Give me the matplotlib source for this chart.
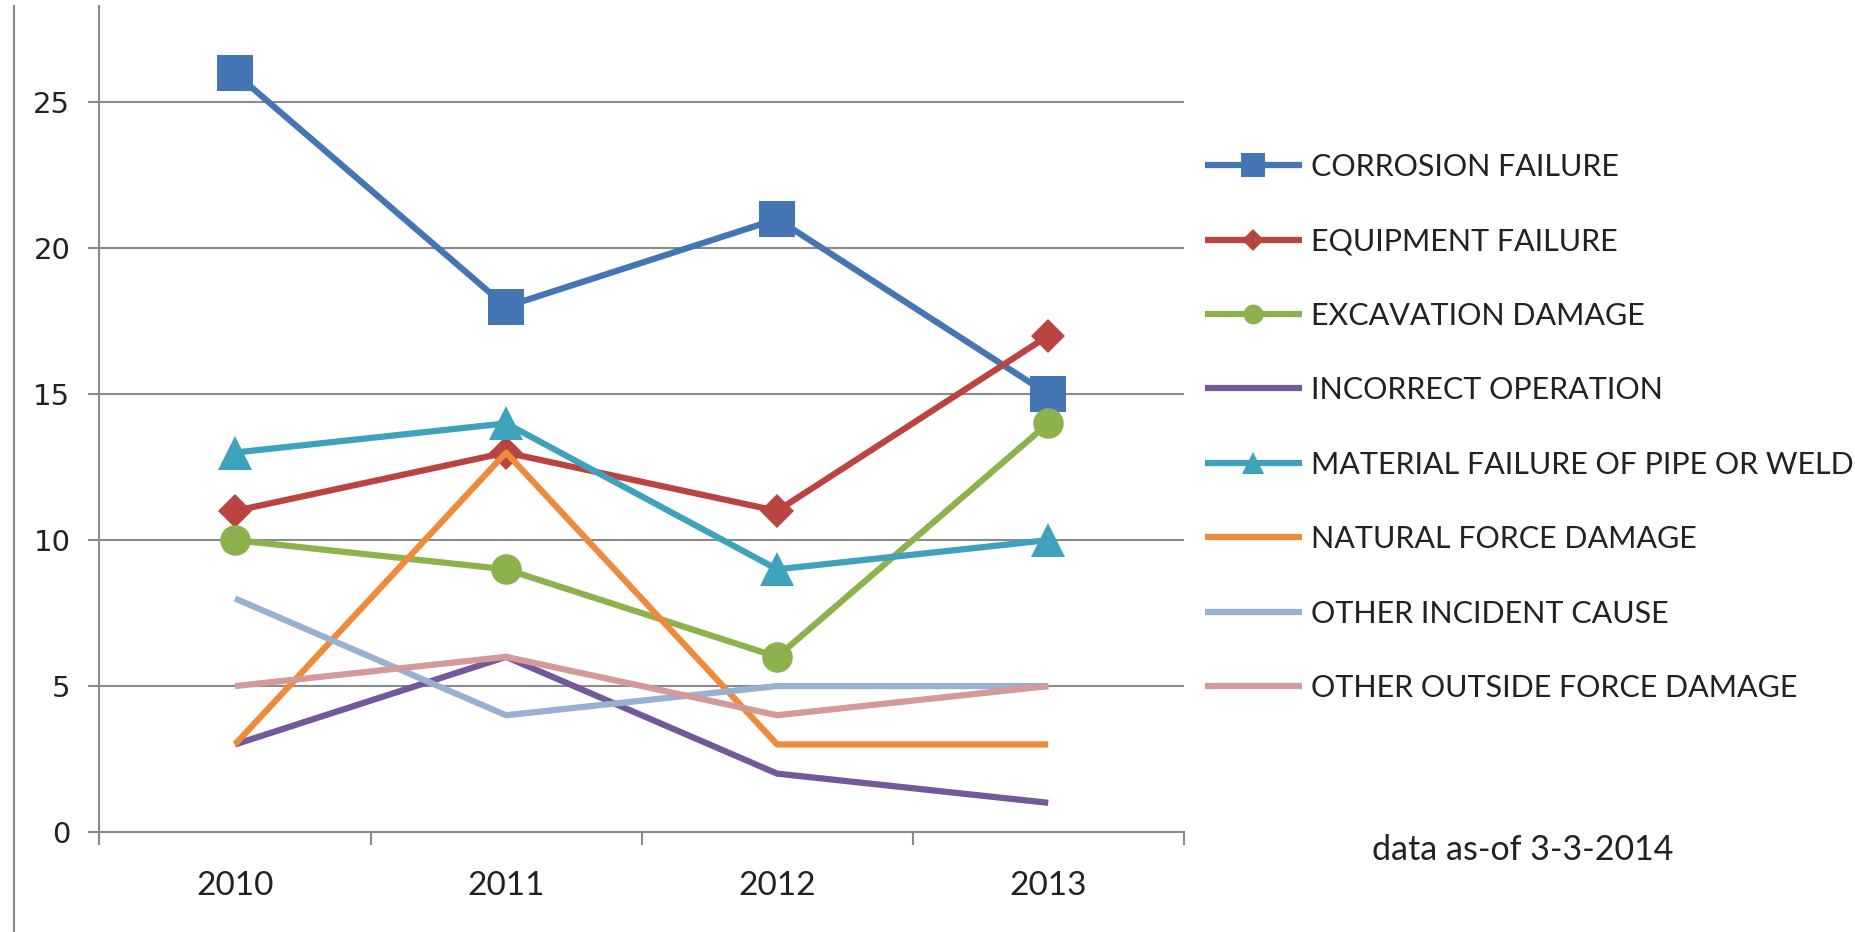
import matplotlib
matplotlib.use("Agg")
import matplotlib.pyplot as plt
from matplotlib.lines import Line2D

years = ["2010", "2011", "2012", "2013"]

corrosion = [26, 18, 21, 15]
equipment = [11, 13, 11, 17]
excavation = [10, 9, 6, 14]
incorrect_op = [3, 6, 2, 1]
material = [13, 14, 9, 10]
natural_force = [3, 13, 3, 3]
other_incident = [8, 4, 5, 5]
other_outside = [5, 6, 4, 5]

labels = ["CORROSION FAILURE", "EQUIPMENT FAILURE", "EXCAVATION DAMAGE",
          "INCORRECT OPERATION", "MATERIAL FAILURE OF PIPE OR WELD",
          "NATURAL FORCE DAMAGE", "OTHER INCIDENT CAUSE",
          "OTHER OUTSIDE FORCE DAMAGE"]

# (values, color, marker, markersize)
series = [
    (corrosion, "#4675B5", "s", 26),
    (equipment, "#BA4440", "D", 17),
    (excavation, "#8DB14C", "o", 22),
    (incorrect_op, "#73589B", None, 0),
    (material, "#3FA2BD", "^", 24),
    (natural_force, "#EE8A3A", None, 0),
    (other_incident, "#98B1D3", None, 0),
    (other_outside, "#D39A99", None, 0),
]

narrow = ["Lato", "DejaVu Sans"]

fig = plt.figure(figsize=(18.56, 9.32), dpi=100)
ax = fig.add_axes([0.0536, 0.1073, 0.5842, 0.8863])

x = list(range(len(years)))
handles = []
for (vals, col, mk, ms), lab in zip(series, labels):
    ln, = ax.plot(x, vals, color=col, lw=4.5, marker=mk, markersize=ms,
                  markeredgewidth=0, label=lab, solid_capstyle="butt")
    handles.append(ln)

ax.set_xlim(-0.5, 3.5)
ax.set_ylim(0, 28.3)
ax.set_yticks([0, 5, 10, 15, 20, 25])
ax.yaxis.grid(True, color="#8A8A8A", lw=1.5)
ax.set_axisbelow(True)

for s in ["top", "right"]:
    ax.spines[s].set_visible(False)
for s in ["left", "bottom"]:
    ax.spines[s].set_color("#8A8A8A")
    ax.spines[s].set_linewidth(1.5)

ax.set_xticks(x)
ax.set_xticklabels(years, family=narrow, fontsize=24, color="#222222")
ax.set_xticks([-0.5, 0.5, 1.5, 2.5, 3.5], minor=True)
ax.tick_params(axis="x", which="major", length=0, pad=28)
ax.tick_params(axis="x", which="minor", length=9, width=1.5, color="#8A8A8A")
ax.tick_params(axis="y", length=8, width=1.5, color="#8A8A8A", pad=13,
               labelsize=21, labelcolor="#222222")

leg = fig.legend(handles=handles, loc="upper left",
                 bbox_to_anchor=(0.649, 0.836), frameon=False,
                 prop={"family": narrow, "size": 22},
                 handlelength=3.2, handletextpad=0.3, labelspacing=1.52,
                 borderpad=0, borderaxespad=0, markerscale=0.65)
for t in leg.get_texts():
    t.set_color("#222222")

fig.text(0.739, 0.088, "data as-of 3-3-2014", family=narrow,
         fontsize=24.5, color="#222222", va="center", ha="left")

# thin frame edge on the left side
fig.add_artist(Line2D([0.0075, 0.0075], [0.0, 0.994], color="#8A8A8A",
                      lw=1.5, transform=fig.transFigure))

fig.savefig("out.png", dpi=100, facecolor="white")
